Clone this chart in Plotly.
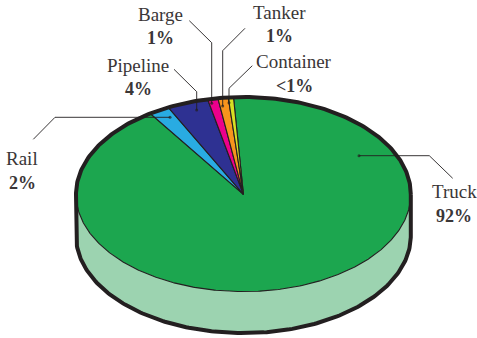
import numpy as np
import plotly.graph_objects as go

# Freight share by mode, percent ("<1%" for container is drawn as 0.5)
modes = ["Truck", "Rail", "Pipeline", "Barge", "Tanker", "Container"]
shares = [92, 2, 4, 1, 1, 0.5]
share_labels = ["92%", "2%", "4%", "1%", "1%", "<1%"]
slice_colors = ["#1ca64f", "#29abe2", "#2e3192", "#ec008c", "#f7941d", "#d7df23"]

WIDTH, HEIGHT = 477, 338
INK = "#231f20"
SIDE = "#9cd3b0"

# Projected disc: ellipse centre, radii, extrusion depth and start bearing (degrees)
cx, cy, rx, ry = 243.4, 194.3, 167.4, 97.3
depth = 41.5
start_deg = -3.4


def rim(t_deg, drop=0.0):
    t = np.radians(t_deg)
    return cx + rx * np.sin(t), cy - ry * np.cos(t) + drop


fig = go.Figure()


def line(x, y, width, color=INK, fill=None, fillcolor=None):
    fig.add_trace(go.Scatter(
        x=list(x), y=list(y), mode="lines", fill=fill, fillcolor=fillcolor,
        line=dict(color=color, width=width), hoverinfo="skip", showlegend=False,
    ))


# Extruded wall below the disc
front = np.linspace(90, 270, 181)
tx, ty = rim(front)
bx, by = rim(front[::-1], depth)
line(np.r_[tx, bx, tx[0]], np.r_[ty, by, ty[0]], 0, SIDE, "toself", SIDE)

# Slices, clockwise from the start bearing
angle = start_deg
total = sum(shares)
for value, color in zip(shares, slice_colors):
    sweep = value / total * 360
    arc = np.linspace(angle, angle + sweep, max(int(sweep * 2), 8))
    ax, ay = rim(arc)
    line(np.r_[cx, ax, cx], np.r_[cy, ay, cy], 1.1, INK, "toself", color)
    angle += sweep

# Heavy outer contour: back of the disc, both wall edges and the wall's base
back = np.linspace(90, -90, 181)
ox, oy = rim(back)
lx, ly = rim(np.linspace(-90, -270, 181), depth)
line(np.r_[ox, lx, ox[0]], np.r_[oy, ly, oy[0]], 4, INK)

# Leader lines with a dot on the slice they point to
leaders = {
    "Truck": ([452.7, 429.3, 359], [178.3, 155.7, 155.7]),
    "Rail": ([33.3, 55, 170], [139.3, 117.3, 117.3]),
    "Pipeline": ([174, 196.7, 196.7], [69.3, 91.7, 110]),
    "Barge": ([189.3, 211.7, 211.7], [20.7, 42.7, 103.3]),
    "Tanker": ([245, 222.7, 222.7], [28.3, 50.7, 106]),
    "Container": ([252.3, 229, 229], [65.7, 88.3, 102.7]),
}
for xs, ys in leaders.values():
    fig.add_trace(go.Scatter(
        x=xs, y=ys, mode="lines+markers",
        line=dict(color=INK, width=0.9),
        marker=dict(size=[0, 0, 3], color=INK, line=dict(width=0)),
        hoverinfo="skip", showlegend=False,
    ))

# Two-line labels: mode name above its bold percentage
label_pos = {
    "Truck": (454, 191, 216),
    "Rail": (22, 158, 183),
    "Pipeline": (138, 65, 89),
    "Barge": (160, 14, 38),
    "Tanker": (279, 12, 36),
    "Container": (294, 61, 86),
}
annotations = []
for name, pct in zip(modes, share_labels):
    x, y_name, y_pct = label_pos[name]
    annotations.append(dict(x=x, y=y_name, text=name, showarrow=False, xanchor="center", yanchor="middle",
                            font=dict(family="Liberation Serif", size=19, color="#3a3637")))
    annotations.append(dict(x=x, y=y_pct, text=f"<b>{pct.replace('<', '&lt;')}</b>", showarrow=False,
                            xanchor="center", yanchor="middle",
                            font=dict(family="Liberation Serif", size=18, color="#3a3637")))

fig.update_layout(
    width=WIDTH, height=HEIGHT, margin=dict(l=0, r=0, t=0, b=0),
    paper_bgcolor="white", plot_bgcolor="white", showlegend=False,
    xaxis=dict(range=[0, WIDTH], visible=False, fixedrange=True),
    yaxis=dict(range=[HEIGHT, 0], visible=False, fixedrange=True),
    annotations=annotations,
)
fig.write_html("out.html", config=dict(displayModeBar=False))
